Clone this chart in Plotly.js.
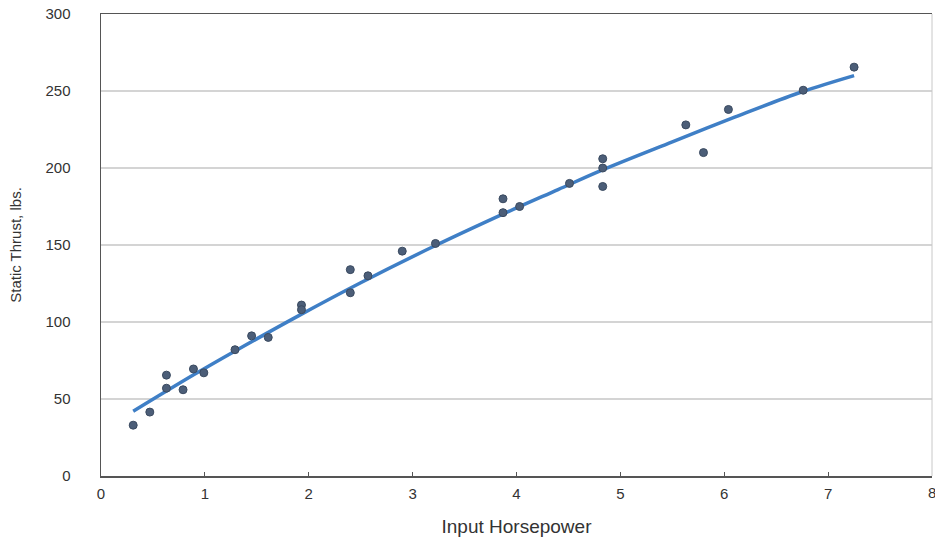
<!DOCTYPE html>
<html>
<head>
<meta charset="utf-8">
<script src="https://cdn.plot.ly/plotly-3.0.1.min.js"></script>
<style>html,body{margin:0;padding:0;background:#fff;}#chart{width:935px;height:541px;}</style>
</head>
<body>
<div id="chart"></div>
<script>
// Measured data points (input horsepower vs static thrust)
const horsepower = [0.31, 0.47, 0.63, 0.63, 0.79, 0.89, 0.99, 1.29, 1.45, 1.61, 1.93, 1.93,
                    2.40, 2.40, 2.57, 2.90, 3.22, 3.87, 3.87, 4.03, 4.51, 4.83, 4.83, 4.83,
                    5.63, 5.80, 6.04, 6.76, 7.25];
const thrust = [33, 41.5, 65.5, 57, 56, 69.5, 67, 82, 91, 90, 111, 108,
                134, 119, 130, 146, 151, 180, 171, 175, 190, 206, 200, 188,
                228, 210, 238, 250.5, 265.5];

// Trend line
const trendX = [0.31, 0.9, 1.3, 1.9, 2.5, 3.2, 3.9, 4.4, 4.8, 5.5, 6.1, 6.75, 7.25];
const trendY = [42, 66, 81.5, 104, 125.5, 149, 171, 186, 198, 217, 233, 249.5, 260];

const xTicks = [0, 1, 2, 3, 4, 5, 6, 7];
const xEdgeTick = 8;
const yTicks = [0, 50, 100, 150, 200, 250, 300];

const font = "'Liberation Sans', Arial, Helvetica, sans-serif";

const traces = [
  {
    x: trendX, y: trendY, type: 'scatter', mode: 'lines',
    line: {color: '#3f7fc6', width: 3.5, shape: 'spline', smoothing: 1},
    hoverinfo: 'skip', showlegend: false
  },
  {
    x: horsepower, y: thrust, type: 'scatter', mode: 'markers',
    marker: {color: '#4c5e78', size: 8, line: {color: '#3a4a60', width: 1}},
    showlegend: false
  }
];

const layout = {
  width: 935, height: 541,
  margin: {l: 101, r: 3, t: 14, b: 65},
  paper_bgcolor: '#ffffff', plot_bgcolor: '#ffffff',
  font: {family: font, size: 15, color: '#333333'},
  xaxis: {
    range: [0, 8], tickvals: xTicks, ticktext: xTicks.map(String),
    showgrid: false, zeroline: false,
    showline: true, linecolor: '#555555', linewidth: 1.5, mirror: true,
    ticks: 'inside', ticklen: 4, tickcolor: '#555555',
    ticklabelstandoff: 3,
    tickfont: {family: font, size: 15, color: '#333333'},
    title: {text: 'Input Horsepower', font: {family: font, size: 19, color: '#333333'}, standoff: 19}
  },
  yaxis: {
    range: [0, 300], tickvals: yTicks, ticktext: yTicks.map(String),
    showgrid: true, gridcolor: '#d4d4d4', gridwidth: 1.5, zeroline: false,
    showline: true, linecolor: '#555555', linewidth: 1.5,
    ticks: '', ticklabelstandoff: 26,
    tickfont: {family: font, size: 15, color: '#333333'},
    title: {text: 'Static Thrust, lbs.', font: {family: font, size: 15, color: '#333333'}, standoff: 20}
  },
  annotations: [
    {x: xEdgeTick, y: 0, xref: 'x', yref: 'y', text: String(xEdgeTick), showarrow: false,
     xanchor: 'center', yanchor: 'top', yshift: -6, font: {family: font, size: 15, color: '#333333'}}
  ],
  shapes: [
    {type: 'line', xref: 'paper', yref: 'paper', x0: 1, x1: 1, y0: 0, y1: 1,
     line: {color: '#c8c8c8', width: 1}}
  ]
};

Plotly.newPlot('chart', traces, layout, {displayModeBar: false, staticPlot: true});
</script>
</body>
</html>
